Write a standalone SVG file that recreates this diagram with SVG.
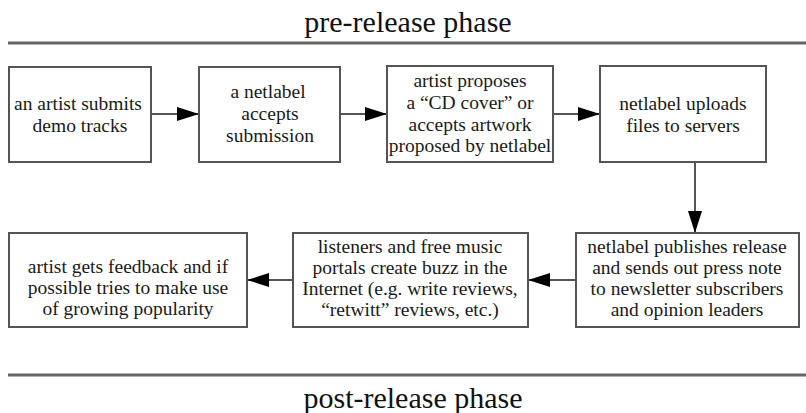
<svg xmlns="http://www.w3.org/2000/svg" width="806" height="413" viewBox="0 0 806 413">
<style>
.box{fill:#fff;stroke:#555;stroke-width:2}
.sep{stroke:#666;stroke-width:3}
.conn{stroke:#555;stroke-width:2;fill:none}
.title{font-family:"Liberation Serif","Times New Roman",serif;font-size:30px;fill:#111;text-anchor:middle}
.t{font-family:"Liberation Serif","Times New Roman",serif;font-size:19.5px;fill:#1a1a1a;text-anchor:middle}
</style>
<defs>
<marker id="ah" viewBox="0 0 22 14" refX="22" refY="7" markerWidth="22" markerHeight="14" markerUnits="userSpaceOnUse" orient="auto">
<path d="M0,0 L22,7 L0,14 z" fill="#000"/>
</marker>
</defs>
<rect width="806" height="413" fill="#fff"/>
<g id="pre-phase">
<text class="title" x="408" y="32">pre-release phase</text>
<line class="sep" x1="8" y1="43" x2="806" y2="43"/>
</g>
<g id="post-phase">
<line class="sep" x1="8" y1="375" x2="806" y2="375"/>
<text class="title" x="413" y="408">post-release phase</text>
</g>
<g id="connectors">
<line class="conn" x1="151" y1="114" x2="199" y2="114" marker-end="url(#ah)"/>
<line class="conn" x1="340" y1="114" x2="387" y2="114" marker-end="url(#ah)"/>
<line class="conn" x1="553" y1="114" x2="600" y2="114" marker-end="url(#ah)"/>
<line class="conn" x1="695" y1="162" x2="695" y2="233" marker-end="url(#ah)"/>
<line class="conn" x1="576" y1="280" x2="528" y2="280" marker-end="url(#ah)"/>
<line class="conn" x1="293" y1="280" x2="247" y2="280" marker-end="url(#ah)"/>
</g>
<g id="n1">
<rect class="box" x="9" y="67" width="142" height="95"/>
<text class="t" x="78" y="110">an artist submits</text>
<text class="t" x="80" y="132">demo tracks</text>
</g>
<g id="n2">
<rect class="box" x="199" y="67" width="141" height="95"/>
<text class="t" x="268" y="98">a netlabel</text>
<text class="t" x="270" y="120">accepts</text>
<text class="t" x="270" y="142">submission</text>
</g>
<g id="n3">
<rect class="box" x="387" y="66" width="166" height="96"/>
<text class="t" x="470" y="87">artist proposes</text>
<text class="t" x="470" y="109">a “CD cover” or</text>
<text class="t" x="470" y="131">accepts artwork</text>
<text class="t" x="470" y="152">proposed by netlabel</text>
</g>
<g id="n4">
<rect class="box" x="600" y="66" width="166" height="96"/>
<text class="t" x="683" y="110">netlabel uploads</text>
<text class="t" x="683" y="132">files to servers</text>
</g>
<g id="n5">
<rect class="box" x="576" y="233" width="223" height="94"/>
<text class="t" x="687" y="253">netlabel publishes release</text>
<text class="t" x="687" y="274">and sends out press note</text>
<text class="t" x="687" y="295">to newsletter subscribers</text>
<text class="t" x="687" y="316">and opinion leaders</text>
</g>
<g id="n6">
<rect class="box" x="293" y="233" width="235" height="94"/>
<text class="t" x="410" y="253">listeners and free music</text>
<text class="t" x="410" y="274">portals create buzz in the</text>
<text class="t" x="410" y="295">Internet (e.g.  write reviews,</text>
<text class="t" x="410" y="316">“retwitt” reviews, etc.)</text>
</g>
<g id="n7">
<rect class="box" x="9" y="233" width="238" height="94"/>
<text class="t" x="128" y="273">artist gets feedback and if</text>
<text class="t" x="128" y="294">possible tries to make use</text>
<text class="t" x="128" y="315">of growing popularity</text>
</g>
</svg>
